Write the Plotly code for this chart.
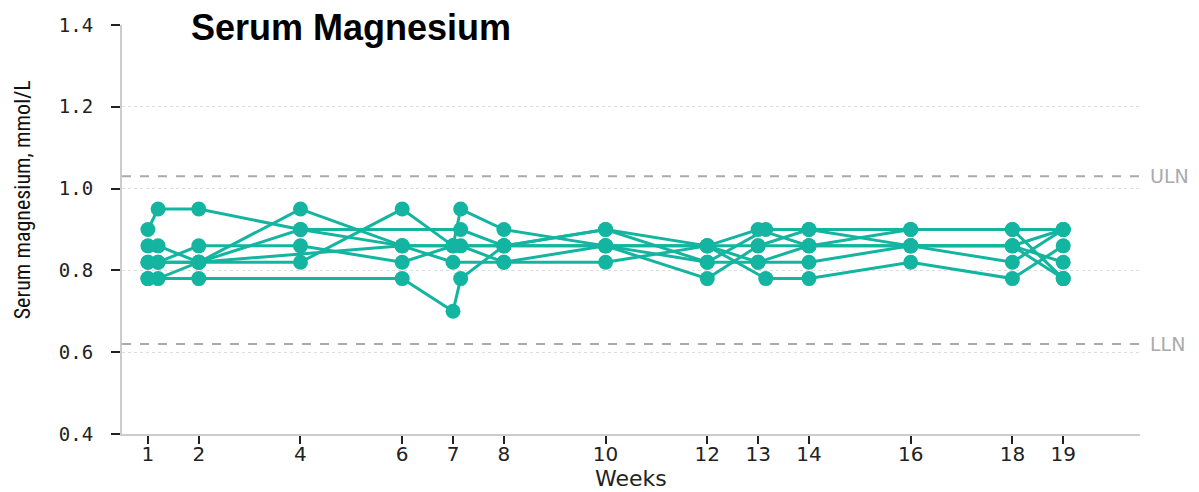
import plotly.graph_objects as go

# ---- data ----
weeks_ticks = [1, 2, 4, 6, 7, 8, 10, 12, 13, 14, 16, 18, 19]
y_ticks = [0.4, 0.6, 0.8, 1.0, 1.2, 1.4]
ULN = 1.03
LLN = 0.62

p1_w = [1, 1.2, 2, 4, 6, 7, 8, 10, 12, 13, 14, 16, 18, 19]
p1_v = [0.90, 0.95, 0.95, 0.90, 0.86, 0.86, 0.86, 0.86, 0.86, 0.86, 0.86, 0.86, 0.86, 0.90]
p2_w = [1, 2, 6, 7, 7.15, 8, 10, 12, 13, 14, 16, 18, 19]
p2_v = [0.78, 0.78, 0.78, 0.70, 0.78, 0.86, 0.90, 0.82, 0.82, 0.82, 0.86, 0.86, 0.78]
p3_w = [1, 1.2, 2, 4, 6, 7, 8, 10, 12, 13, 14, 16, 18, 19]
p3_v = [0.86, 0.86, 0.82, 0.95, 0.86, 0.82, 0.82, 0.82, 0.86, 0.90, 0.86, 0.90, 0.90, 0.90]
p4_w = [1, 1.2, 2, 4, 6, 7, 7.15, 8, 10, 12, 13.15, 14, 16, 18, 19]
p4_v = [0.82, 0.82, 0.86, 0.86, 0.82, 0.86, 0.95, 0.90, 0.86, 0.82, 0.90, 0.90, 0.86, 0.82, 0.90]
p5_w = [1, 1.2, 2, 4, 6, 7, 8, 10, 12, 13, 14, 16, 18, 19]
p5_v = [0.78, 0.78, 0.82, 0.82, 0.95, 0.86, 0.86, 0.86, 0.78, 0.86, 0.90, 0.90, 0.90, 0.78]
p6_w = [1, 2, 4, 7.15, 8, 10, 12, 13.15, 14, 16, 18, 19]
p6_v = [0.82, 0.82, 0.90, 0.90, 0.86, 0.90, 0.86, 0.78, 0.78, 0.82, 0.78, 0.86]
p7_w = [1.2, 2, 6, 7.15, 8, 10, 12, 13, 14, 16, 18, 19]
p7_v = [0.82, 0.82, 0.86, 0.86, 0.82, 0.86, 0.86, 0.82, 0.86, 0.86, 0.86, 0.82]

series = [(p1_w, p1_v), (p2_w, p2_v), (p3_w, p3_v), (p4_w, p4_v),
          (p5_w, p5_v), (p6_w, p6_v), (p7_w, p7_v)]

TEAL = "#14B5A0"

fig = go.Figure()
for w, v in series:
    fig.add_trace(go.Scatter(
        x=w, y=v, mode="lines+markers",
        line=dict(color=TEAL, width=3),
        marker=dict(color=TEAL, size=15),
        showlegend=False, hoverinfo="x+y"))

for val, lab in [(ULN, "ULN"), (LLN, "LLN")]:
    fig.add_shape(type="line", xref="paper", x0=0, x1=1, yref="y", y0=val, y1=val,
                  line=dict(color="#AAAAAA", width=2, dash="dash"), layer="below")
    fig.add_annotation(xref="paper", x=1.008, yref="y", y=val, text=lab,
                       showarrow=False, xanchor="left", yanchor="middle",
                       font=dict(family="DejaVu Sans", size=19, color="#AAAAAA"))

fig.add_annotation(xref="paper", yref="paper", x=0.066, y=0.995, xanchor="left",
                   yanchor="middle", showarrow=False,
                   text="<b>Serum Magnesium</b>",
                   font=dict(family="Liberation Sans, Arial, sans-serif", size=36, color="#000000"))

# y-axis title as rotated annotation for precise placement
fig.add_annotation(xref="paper", yref="paper", x=-0.098, y=0.572,
                   xanchor="center", yanchor="middle", showarrow=False, textangle=-90,
                   text="Serum magnesium, mmol/L",
                   font=dict(family="Liberation Sans Narrow, Roboto Condensed, Liberation Sans, sans-serif",
                             size=22, color="#111111"))

# x-axis title as annotation
fig.add_annotation(xref="paper", yref="paper", x=0.5, y=-0.1076,
                   xanchor="center", yanchor="middle", showarrow=False,
                   text="Weeks",
                   font=dict(family="DejaVu Sans", size=22, color="#222222"))

fig.update_layout(
    width=1199, height=492,
    margin=dict(l=122, r=59, t=25, b=58),
    paper_bgcolor="white", plot_bgcolor="white",
    font=dict(family="DejaVu Sans", color="#333333"),
    xaxis=dict(range=[0.49, 20.51], tickmode="array", tickvals=weeks_ticks,
               ticktext=[str(t) for t in weeks_ticks],
               showgrid=False, zeroline=False, automargin=False,
               showline=True, linecolor="#CCCCCC", linewidth=2,
               ticks="outside", ticklen=8, tickwidth=2, tickcolor="#222222",
               ticklabelstandoff=-7,
               tickfont=dict(family="DejaVu Sans", size=20, color="#222222")),
    yaxis=dict(range=[0.4, 1.4], tickmode="array", tickvals=y_ticks,
               ticktext=[f"{t:.1f}" for t in y_ticks],
               showgrid=True, gridcolor="#DDDDDD", griddash="dot", gridwidth=1,
               zeroline=False, automargin=False,
               showline=True, linecolor="#CCCCCC", linewidth=2,
               ticks="outside", ticklen=9, tickwidth=2, tickcolor="#222222",
               ticklabelstandoff=14,
               tickfont=dict(family="DejaVu Sans Mono", size=19, color="#222222")),
)

fig.write_html("out.html")
